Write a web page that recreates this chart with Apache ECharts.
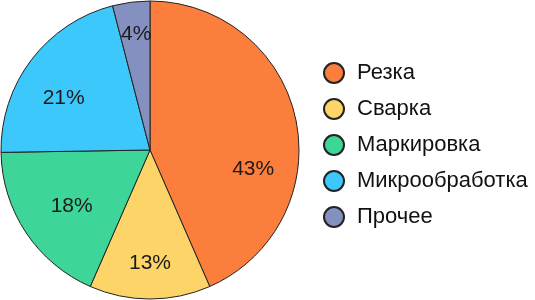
<!DOCTYPE html>
<html><head><meta charset="utf-8">
<script src="https://cdn.jsdelivr.net/npm/echarts@6/dist/echarts.min.js"></script>
<style>html,body{margin:0;padding:0;background:#fff}#c{width:535px;height:300px}</style>
</head><body><div id="c"></div>
<script>
const categories = ['Резка', 'Сварка', 'Маркировка', 'Микрообработка', 'Прочее'];
const values = [43, 13, 18, 21, 4];
const colors = ['#FC7E3C', '#FDD468', '#3DD598', '#3DC8FB', '#8491C0'];

// small manual nudges of the value labels (style only)
const labelNudges = { 'Резка': [-3, 41], 'Сварка': [0, 5], 'Маркировка': [12, -4], 'Микрообработка': [0, 14], 'Прочее': [0, -8] };

const data = categories.map((n, i) => ({ name: n, value: values[i], itemStyle: { color: colors[i] } }));
const chart = echarts.init(document.getElementById('c'), null, { renderer: 'canvas' });
chart.setOption({
  animation: false,
  color: colors,
  legend: {
    orient: 'vertical',
    left: 318,
    top: 57,
    icon: 'circle',
    itemWidth: 36,
    itemHeight: 20,
    itemGap: 14,
    textStyle: { fontFamily: 'Liberation Sans', fontSize: 22, lineHeight: 20, color: '#111' },
    data: categories
  },
  series: [
    {
      type: 'pie',
      center: [150, 150],
      radius: [0, 149],
      startAngle: 90,
      clockwise: true,
      label: { show: false },
      labelLine: { show: false },
      itemStyle: { borderColor: '#222', borderWidth: 1 },
      emphasis: { disabled: true },
      data: data
    },
    {
      type: 'pie',
      center: [150, 150],
      radius: [62, 149],
      startAngle: 90,
      clockwise: true,
      silent: true,
      legendHoverLink: false,
      itemStyle: { color: 'rgba(0,0,0,0)', borderWidth: 0 },
      label: {
        show: true,
        position: 'inside',
        formatter: p => p.value + '%',
        fontFamily: 'Liberation Sans',
        fontSize: 21,
        color: '#1a1a1a'
      },
      labelLine: { show: false },
      emphasis: { disabled: true },
      data: categories.map((n, i) => ({ name: n + ' ', value: values[i], label: { offset: labelNudges[n] } }))
    }
  ]
});
</script></body></html>
